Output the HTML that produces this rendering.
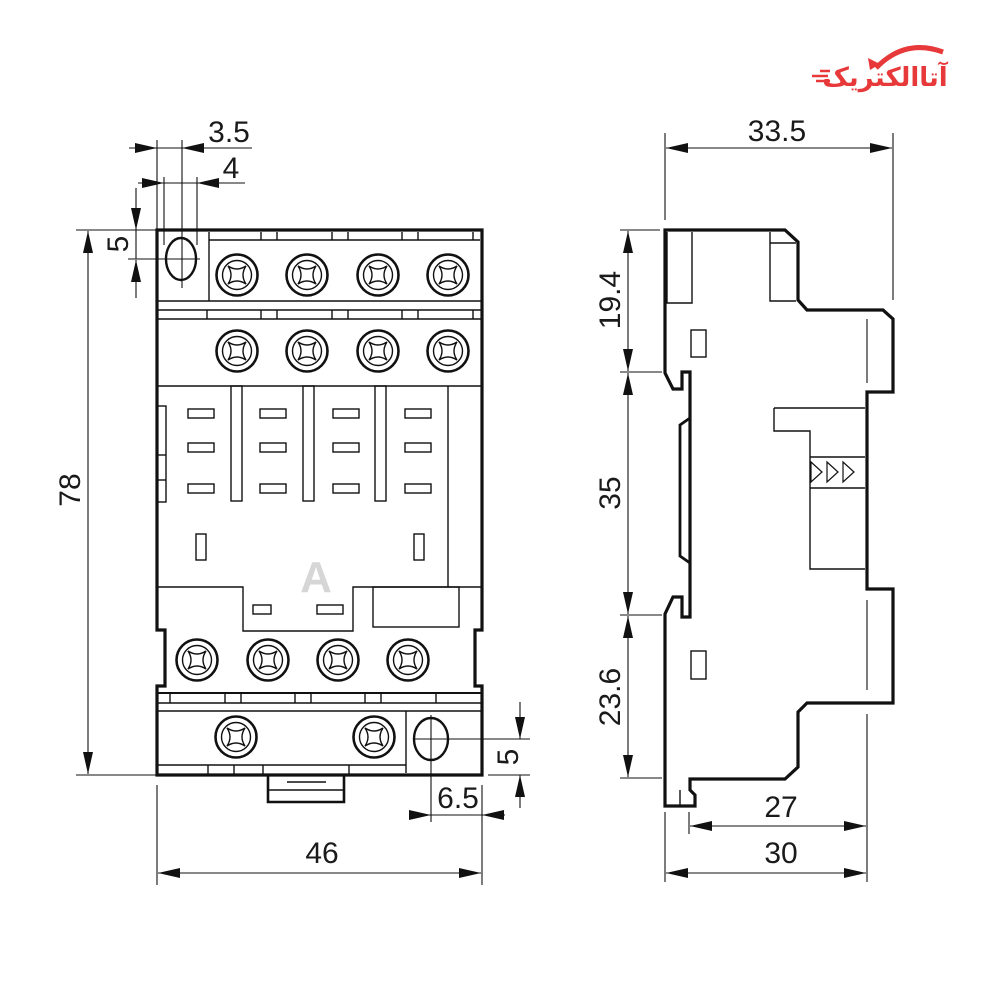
<!DOCTYPE html>
<html><head><meta charset="utf-8"><style>
html,body{margin:0;padding:0;background:#fff;}
svg{display:block;}
text{font-family:"Liberation Sans",Arial,sans-serif;fill:#1a1a1a;}
</style></head><body>
<svg width="1000" height="1000" viewBox="0 0 1000 1000" xmlns="http://www.w3.org/2000/svg">
<defs>
<marker id="ar" markerUnits="userSpaceOnUse" markerWidth="22" markerHeight="10" refX="22" refY="5" orient="auto-start-reverse">
<path d="M0,0 L22,5 L0,10 Z" fill="#111"/></marker>
<g id="sc">
<circle r="20.5" fill="#fff" stroke="#111" stroke-width="2.6"/>
<circle r="14.5" fill="none" stroke="#111" stroke-width="1.4"/>
<path d="M-9,-9 Q0,-3 9,-9 Q3,0 9,9 Q0,3 -9,9 Q-3,0 -9,-9 Z" fill="none" stroke="#111" stroke-width="1.4"/>
</g>
</defs>

<!-- logo -->
<path d="M876,68 Q905,38 943,52" fill="none" stroke="#e8393a" stroke-width="5"/>
<path d="M868,58 L880,64 L870,70 Z" fill="#e8393a"/>
<text x="885" y="86" font-size="26" font-weight="bold" text-anchor="middle" style="fill:#e8393a;font-family:'DejaVu Sans',sans-serif">آتاالکتریک</text>
<g stroke="#e8393a" stroke-width="2.5"><line x1="812" y1="76" x2="828" y2="76"/><line x1="816" y1="81" x2="830" y2="81"/><line x1="820" y1="71" x2="830" y2="71"/></g>

<!-- watermark -->
<text x="316" y="592" font-size="44" font-weight="bold" text-anchor="middle" style="fill:#d6d6d6">A</text>

<g fill="none" stroke="#111" stroke-width="1.4">
<!-- FRONT VIEW -->
<path d="M157,230 L482,230 L482,630 L475,630 L475,686 L482,686 L482,775 L157,775 L157,686 L165,686 L165,630 L157,630 Z" stroke-width="3.2"/>
<line x1="209" y1="240" x2="480" y2="240"/>
<line x1="209" y1="232" x2="209" y2="301"/>
<g><line x1="261" y1="232" x2="261" y2="240"/><line x1="277" y1="232" x2="277" y2="240"/><line x1="332" y1="232" x2="332" y2="240"/><line x1="348" y1="232" x2="348" y2="240"/><line x1="402" y1="232" x2="402" y2="240"/><line x1="418" y1="232" x2="418" y2="240"/><line x1="473" y1="232" x2="473" y2="240"/></g>
<line x1="158" y1="301" x2="481" y2="301"/>
<line x1="158" y1="310" x2="481" y2="310"/>
<line x1="158" y1="319" x2="481" y2="319"/>
<g><line x1="207" y1="310" x2="207" y2="319"/><line x1="261" y1="310" x2="261" y2="319"/><line x1="277" y1="310" x2="277" y2="319"/><line x1="332" y1="310" x2="332" y2="319"/><line x1="348" y1="310" x2="348" y2="319"/><line x1="402" y1="310" x2="402" y2="319"/><line x1="418" y1="310" x2="418" y2="319"/><line x1="473" y1="310" x2="473" y2="319"/></g>
<line x1="158" y1="386" x2="481" y2="386"/>
<rect x="231" y="386" width="11" height="115"/>
<rect x="303" y="386" width="11" height="115"/>
<rect x="375" y="386" width="11" height="115"/>
<line x1="448" y1="386" x2="448" y2="587"/>
<rect x="157" y="406" width="9" height="96"/>
<line x1="157" y1="455" x2="166" y2="455"/><line x1="157" y1="480" x2="166" y2="480"/>
<g>
<rect x="188" y="409" width="26" height="9"/><rect x="260" y="409" width="26" height="9"/><rect x="333" y="409" width="26" height="9"/><rect x="405" y="409" width="26" height="9"/>
<rect x="188" y="443" width="26" height="9"/><rect x="260" y="443" width="26" height="9"/><rect x="333" y="443" width="26" height="9"/><rect x="405" y="443" width="26" height="9"/>
<rect x="188" y="484" width="26" height="9"/><rect x="260" y="484" width="26" height="9"/><rect x="333" y="484" width="26" height="9"/><rect x="405" y="484" width="26" height="9"/>
</g>
<rect x="196" y="534" width="10" height="26"/>
<rect x="414" y="534" width="10" height="26"/>
<path d="M158,587 L243,587 L243,631 L353,631 L353,587 L481,587"/>
<rect x="373" y="587" width="86" height="40"/>
<rect x="253" y="605" width="18" height="9"/>
<rect x="317" y="605" width="26" height="9"/>
<line x1="158" y1="693" x2="481" y2="693" stroke-width="2"/>
<line x1="158" y1="703" x2="481" y2="703"/>
<line x1="158" y1="711" x2="481" y2="711"/>
<g><line x1="170" y1="693" x2="170" y2="703"/><line x1="225" y1="693" x2="225" y2="703"/><line x1="241" y1="693" x2="241" y2="703"/><line x1="295" y1="693" x2="295" y2="703"/><line x1="311" y1="693" x2="311" y2="703"/><line x1="365" y1="693" x2="365" y2="703"/><line x1="381" y1="693" x2="381" y2="703"/><line x1="436" y1="693" x2="436" y2="703"/></g>
<line x1="406" y1="711" x2="406" y2="773"/>
<line x1="158" y1="765" x2="406" y2="765"/>
<g><line x1="208" y1="765" x2="208" y2="775"/><line x1="234" y1="765" x2="234" y2="775"/><line x1="263" y1="765" x2="263" y2="775"/><line x1="349" y1="765" x2="349" y2="775"/></g>
<path d="M268,775 L268,802 L344,802 L344,775" stroke-width="2.6"/>
<line x1="268" y1="790" x2="344" y2="790"/>
<line x1="287" y1="782" x2="326" y2="782"/>
<ellipse cx="181" cy="259" rx="15" ry="21" stroke-width="2.4"/>
<ellipse cx="431" cy="739" rx="17" ry="21" stroke-width="2.4"/>
</g>
<use href="#sc" x="237" y="275"/><use href="#sc" x="307" y="275"/><use href="#sc" x="378" y="275"/><use href="#sc" x="448" y="275"/>
<use href="#sc" x="237" y="351"/><use href="#sc" x="307" y="351"/><use href="#sc" x="378" y="351"/><use href="#sc" x="448" y="351"/>
<use href="#sc" x="197" y="660"/><use href="#sc" x="268" y="660"/><use href="#sc" x="338" y="660"/><use href="#sc" x="408" y="660"/>
<use href="#sc" x="236" y="737"/><use href="#sc" x="374" y="737"/>

<!-- FRONT DIMENSIONS -->
<g stroke="#111" stroke-width="1.1" fill="none">
<line x1="76" y1="230" x2="157" y2="230"/><line x1="76" y1="775" x2="157" y2="775"/>
<line x1="88" y1="231" x2="88" y2="774" marker-start="url(#ar)" marker-end="url(#ar)"/>
<line x1="128" y1="259" x2="200" y2="259"/>
<line x1="136" y1="188" x2="136" y2="230" marker-end="url(#ar)"/>
<line x1="136" y1="298" x2="136" y2="260" marker-end="url(#ar)"/>
<line x1="136" y1="230" x2="136" y2="259"/>
<line x1="157" y1="140" x2="157" y2="230"/>
<line x1="182" y1="140" x2="182" y2="288"/>
<line x1="164" y1="177" x2="164" y2="245"/>
<line x1="197" y1="177" x2="197" y2="245"/>
<line x1="129" y1="148" x2="157" y2="148" marker-end="url(#ar)"/>
<line x1="252" y1="148" x2="182" y2="148" marker-end="url(#ar)"/>
<line x1="157" y1="148" x2="182" y2="148"/>
<line x1="138" y1="183" x2="164" y2="183" marker-end="url(#ar)"/>
<line x1="245" y1="183" x2="197" y2="183" marker-end="url(#ar)"/>
<line x1="164" y1="183" x2="197" y2="183"/>
<line x1="157" y1="785" x2="157" y2="885"/><line x1="482" y1="785" x2="482" y2="885"/>
<line x1="158" y1="873" x2="481" y2="873" marker-start="url(#ar)" marker-end="url(#ar)"/>
<line x1="431" y1="715" x2="431" y2="822"/>
<line x1="409" y1="815" x2="431" y2="815" marker-end="url(#ar)"/>
<line x1="505" y1="815" x2="482" y2="815" marker-end="url(#ar)"/>
<line x1="431" y1="815" x2="482" y2="815"/>
<line x1="413" y1="739" x2="530" y2="739"/>
<line x1="488" y1="775" x2="530" y2="775"/>
<line x1="520" y1="702" x2="520" y2="739" marker-end="url(#ar)"/>
<line x1="520" y1="808" x2="520" y2="775" marker-end="url(#ar)"/>
</g>
<text x="229" y="142" font-size="30" text-anchor="middle">3.5</text>
<text x="231" y="178" font-size="30" text-anchor="middle">4</text>
<text x="322" y="863" font-size="30" text-anchor="middle">46</text>
<text x="458" y="808" font-size="30" text-anchor="middle">6.5</text>
<text transform="translate(80,490) rotate(-90)" font-size="30" text-anchor="middle">78</text>
<text transform="translate(128,244) rotate(-90)" font-size="30" text-anchor="middle">5</text>
<text transform="translate(518,757) rotate(-90)" font-size="30" text-anchor="middle">5</text>

<!-- SIDE VIEW -->
<g fill="none" stroke="#111">
<path d="M665,230 L785,230 L798,242 L798,300 L807,310 L883,310 L893,319 L893,392 L867,392 L867,589 L893,589 L893,703 L807,703 L798,712 L798,767 L785,779 L690,779 L690,790 L695,795 L695,806 L665,806 L665,614 L673,597 L682,597 L682,617 L690,617 L690,372 L682,372 L682,389 L673,389 L665,373 Z" stroke-width="3.2" stroke-linejoin="miter"/>
<g stroke-width="1.4">
<path d="M667,232 L667,303 L692,303 L692,232"/>
<path d="M770,232 L770,301 L796,301"/>
<line x1="770" y1="243" x2="796" y2="243"/>
<rect x="691" y="330" width="15" height="27"/>
<rect x="691" y="651" width="15" height="28"/>
<line x1="680" y1="790" x2="680" y2="806"/>
<path d="M774,408 L865,408 M774,408 L774,431 L810,431 L810,569 L865,569 M810,457 L865,457 M810,488 L865,488"/>
<path d="M811,462 L822,472 L811,482 Z M827,462 L838,472 L827,482 Z M843,462 L854,472 L843,482 Z" stroke-width="1.2"/>
</g>
<path d="M690,418 L680,425 L680,556 L690,563" stroke-width="2.8"/>
</g>

<!-- SIDE DIMENSIONS -->
<g stroke="#111" stroke-width="1.1" fill="none">
<line x1="665" y1="133" x2="665" y2="220"/>
<line x1="893" y1="133" x2="893" y2="300"/>
<line x1="666" y1="148" x2="892" y2="148" marker-start="url(#ar)" marker-end="url(#ar)"/>
<line x1="620" y1="230" x2="660" y2="230"/>
<line x1="620" y1="372" x2="662" y2="372"/>
<line x1="620" y1="615" x2="662" y2="615"/>
<line x1="620" y1="778" x2="662" y2="778"/>
<line x1="628" y1="231" x2="628" y2="371" marker-start="url(#ar)" marker-end="url(#ar)"/>
<line x1="628" y1="373" x2="628" y2="614" marker-start="url(#ar)" marker-end="url(#ar)"/>
<line x1="628" y1="616" x2="628" y2="777" marker-start="url(#ar)" marker-end="url(#ar)"/>
<line x1="867" y1="319" x2="867" y2="383"/>
<line x1="867" y1="600" x2="867" y2="690"/>
<line x1="867" y1="714" x2="867" y2="882"/>
<line x1="665" y1="812" x2="665" y2="882"/>
<line x1="689" y1="812" x2="689" y2="834"/>
<line x1="690" y1="826" x2="866" y2="826" marker-start="url(#ar)" marker-end="url(#ar)"/>
<line x1="666" y1="873" x2="866" y2="873" marker-start="url(#ar)" marker-end="url(#ar)"/>
</g>
<text x="777" y="141" font-size="30" text-anchor="middle">33.5</text>
<text x="781" y="817" font-size="30" text-anchor="middle">27</text>
<text x="781" y="863" font-size="30" text-anchor="middle">30</text>
<text transform="translate(620,300) rotate(-90)" font-size="30" text-anchor="middle">19.4</text>
<text transform="translate(620,493) rotate(-90)" font-size="30" text-anchor="middle">35</text>
<text transform="translate(620,697) rotate(-90)" font-size="30" text-anchor="middle">23.6</text>
</svg>
</body></html>
